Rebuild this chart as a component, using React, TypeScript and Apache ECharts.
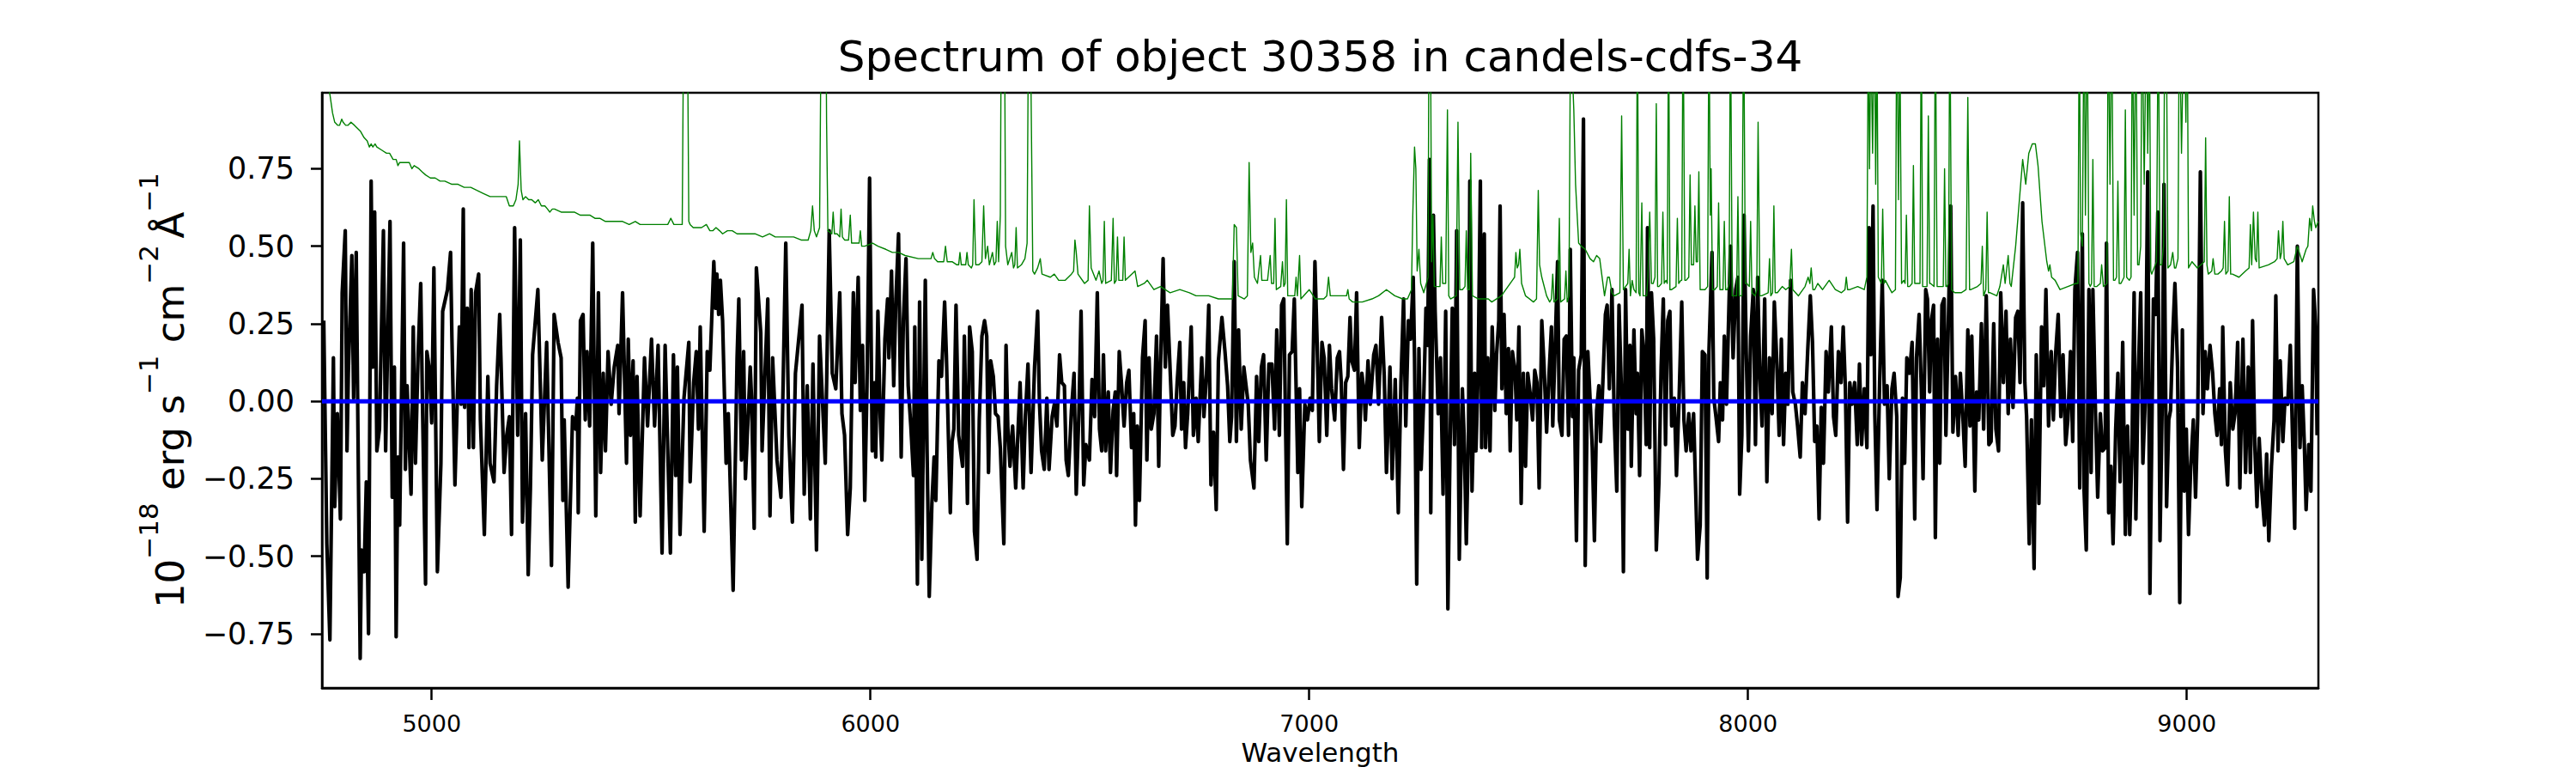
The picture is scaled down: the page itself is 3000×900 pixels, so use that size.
import React, { useEffect, useRef } from "react";
import * as echarts from "echarts";

const FONT = "DejaVu Sans";

const xTicks = [5000, 6000, 7000, 8000, 9000];
const yTicks = [-0.75, -0.5, -0.25, 0, 0.25, 0.5, 0.75];

// Observed flux (black), [wavelength, flux]
const fluxA = [[4754,.26],[4761,-.46],[4768,-.77],[4776,.14],[4779,-.34],[4785,-.04],[4792,-.38],[4796,.35],[4803,.55],[4807,-.16],[4810,.09],[4818,.47],[4822,.01],[4828,.48],[4837,-.83],[4840,-.48],[4846,-.55],[4851,-.26],[4856,-.75],[4862,.71],[4866,.11],[4870,.61],[4875,-.16],[4881,-.09],[4890,.55],[4895,-.16],[4905,.58],[4910,-.31],[4915,.11],[4919,-.76],[4923,-.18],[4927,-.40],[4936,.51],[4940,-.22],[4944,.05],[4953,-.30],[4958,.24],[4963,-.20],[4969,.15],[4975,.38],[4979,-.01],[4986,-.59],[4989,.16],[4995,.10],[5000,-.07],[5005,.43],[5013,-.55],[5021,-.20],[5025,.29],[5036,.36],[5043,.48],[5046,.21],[5053,-.27],[5063,.24],[5067,-.01],[5072,.62],[5075,-.02],[5081,.30],[5085,-.15],[5090,.36],[5095,-.15],[5100,.35],[5107,.41],[5111,-.06],[5120,-.43],[5128,.08],[5133,-.20],[5142,-.26],[5148,.05],[5155,.28],[5165,-.23],[5171,-.11],[5177,-.05],[5182,-.43],[5189,.56],[5196,-.11],[5202,.52],[5207,-.39],[5214,-.04],[5220,-.56],[5225,-.28],[5230,.15],[5242,.36],[5252,-.19],[5262,.19],[5273,-.53],[5279,.28],[5288,.19],[5295,.14],[5299,-.32],[5302,-.06],[5311,-.60],[5321,-.05],[5328,-.09],[5332,.01],[5334,-.36],[5339,.26],[5345,.28],[5350,-.06],[5354,.16],[5360,-.08],[5367,.51],[5374,-.37],[5380,.35],[5385,-.23],[5391,.09],[5396,-.16],[5402,.16],[5409,-.01],[5416,.11],[5424,.18],[5427,-.04],[5435,.35],[5444,-.20],[5448,.20],[5453,-.11],[5459,.13],[5464,-.39],[5468,.08],[5475,-.37],[5485,.14],[5492,-.08],[5501,.20],[5508,-.08],[5516,.18],[5525,-.49],[5532,.18],[5544,-.49],[5551,.15],[5556,-.24],[5560,.11],[5566,-.43],[5575,.01],[5586,.19],[5589,-.26],[5597,.06],[5603,.16],[5608,-.09],[5612,.24],[5621,-.42],[5628,.16],[5634,.10],[5643,.45],[5647,.30],[5650,.41],[5654,.28],[5658,.39],[5663,.26],[5671,-.20],[5676,-.04],[5687,-.61],[5696,.14],[5700,.33],[5706,-.19],[5711,.16],[5715,-.25],[5726,.11],[5729,.01],[5735,-.41],[5740,.43],[5750,.22],[5753,-.16],[5766,.33],[5771,-.37],[5777,.14],[5787,-.19],[5796,-.31],[5807,.51],[5814,-.11],[5822,-.39],[5829,.09],[5844,.31],[5849,-.30],[5856,.05],[5863,-.38],[5869,.12],[5877,-.48],[5884,.21],[5897,-.20]];

const fluxB = [[5906,.55],[5913,.09],[5921,.04],[5930,.35],[5935,-.04],[5941,-.11],[5948,-.43],[5954,-.28],[5961,.35],[5965,.06],[5972,.40],[5977,-.03],[5982,.18],[5987,-.32],[5992,.04],[5998,.72],[6004,-.16],[6009,.06],[6012,-.18],[6017,.29],[6022,-.04],[6026,-.19],[6033,.20],[6039,.33],[6042,.14],[6048,.42],[6053,.05],[6058,.33],[6064,.54],[6070,-.18],[6075,.26],[6081,.46],[6086,.05],[6092,-.08],[6098,-.24],[6101,.24],[6107,-.59],[6112,.32],[6117,-.51],[6125,.39],[6129,-.16],[6134,-.63],[6140,-.33],[6145,-.18],[6149,-.32],[6156,.13],[6162,.08],[6169,.32],[6173,.15],[6182,-.36],[6186,-.13],[6190,-.09],[6195,.31],[6201,-.11],[6210,-.21],[6214,.21],[6221,-.33],[6226,.24],[6232,.16],[6237,-.42],[6243,-.51],[6248,-.06],[6254,.21],[6260,.26],[6265,.21],[6269,-.23],[6274,.13],[6280,.08],[6285,-.04],[6291,-.05],[6296,-.15],[6304,-.46],[6309,.18],[6313,-.08],[6318,-.21],[6324,-.08],[6331,-.28],[6335,-.14],[6341,.06],[6348,-.28],[6353,-.05],[6359,.12],[6366,-.23],[6374,.11],[6381,.29],[6385,.00],[6390,-.16],[6396,-.22],[6402,.01],[6407,-.22],[6414,-.05],[6419,-.01],[6425,-.08],[6431,.15],[6436,.06],[6442,.05],[6446,-.19],[6451,-.24],[6458,-.03],[6464,.09],[6469,-.30],[6475,-.04],[6480,.29],[6486,-.27],[6491,-.14],[6499,-.19],[6505,.07],[6511,-.05],[6517,.35],[6522,-.09],[6527,-.16],[6531,.15],[6536,-.16],[6542,.03],[6547,-.23],[6553,-.03],[6558,.03],[6561,-.24],[6567,.16],[6572,.06],[6578,-.08],[6584,.06],[6589,.10],[6595,-.15],[6600,-.04],[6604,-.40],[6608,-.08],[6613,-.32],[6620,.14],[6626,.26],[6630,-.19],[6635,.14],[6640,-.09],[6646,-.04],[6652,.21],[6657,-.21],[6661,.11],[6667,.46],[6672,.11],[6677,.31],[6683,.10],[6689,-.11],[6694,-.08],[6699,.06],[6705,.19],[6709,-.09],[6714,.06],[6718,-.15],[6723,-.04],[6731,.24],[6736,-.11],[6742,.01],[6747,-.13],[6755,.14],[6760,-.05],[6766,.09],[6771,.31],[6776,-.27],[6782,-.10],[6788,-.35],[6793,.13],[6801,.27],[6808,.16],[6814,.05],[6819,-.13],[6823,-.05],[6829,.45],[6834,-.13],[6839,.23],[6845,-.09],[6851,.11],[6856,.05],[6861,-.01],[6866,-.19],[6874,-.28],[6880,.08],[6885,-.13],[6891,.11],[6896,.15],[6902,-.19],[6908,.12],[6915,.12],[6921,-.09],[6926,.23],[6932,-.11],[6937,.31],[6942,.33],[6950,-.46],[6955,.15],[6961,.16],[6966,.33],[6974,-.23],[6978,.04],[6983,-.34],[6990,-.01],[6996,-.06],[7002,.01],[7007,-.03],[7013,.45],[7018,.19],[7023,-.13],[7029,.19],[7034,.14],[7040,-.11]];

const fluxC = [[7046,.18],[7051,.04],[7058,-.06],[7064,.14],[7069,.16],[7073,.06],[7078,-.22],[7083,.06],[7088,.08],[7093,.27],[7097,.13],[7103,.10],[7108,.35],[7114,-.15],[7120,.09],[7125,.03],[7128,-.06],[7134,.13],[7139,-.01],[7147,.15],[7152,.18],[7158,-.01],[7165,.27],[7171,.08],[7176,-.23],[7184,.11],[7189,-.25],[7196,.07],[7203,-.36],[7209,.06],[7215,.33],[7220,-.08],[7226,.26],[7231,.20],[7237,.40],[7240,.14],[7245,-.59],[7250,.17],[7255,-.22],[7261,.01],[7266,.30],[7270,.18],[7274,.78],[7277,-.36],[7283,.60],[7287,.29],[7294,-.04],[7299,.14],[7305,-.30],[7311,.29],[7316,-.67],[7321,-.14],[7326,.30],[7331,-.14],[7336,.55],[7342,-.51],[7349,.04],[7353,-.11],[7358,-.46],[7363,-.11],[7366,.71],[7371,-.29],[7377,.09],[7380,-.16],[7385,.10],[7390,.71],[7393,-.15],[7399,.54],[7402,-.15],[7407,.14],[7412,-.16],[7417,.24],[7423,-.03],[7427,.15],[7432,.26],[7435,.63],[7439,.04],[7444,.28],[7449,-.04],[7454,.17],[7458,-.16],[7463,.16],[7469,.10],[7473,-.06],[7478,.24],[7483,-.33],[7488,.09],[7493,-.21],[7498,.09],[7504,.02],[7509,-.06],[7514,.10],[7519,.06],[7524,-.28],[7530,.26],[7535,.12],[7541,-.10],[7547,.10],[7552,.24],[7555,-.08],[7561,.20],[7566,.45],[7570,-.06],[7576,-.11],[7581,.20],[7586,.21],[7591,-.11],[7595,.49],[7600,-.05],[7603,.14],[7609,-.45],[7614,.10],[7620,.15],[7625,.91],[7629,-.53],[7635,.16],[7640,.01],[7645,-.15],[7650,-.45],[7655,-.03],[7660,.05],[7664,-.13],[7670,.09],[7675,.28],[7679,.31],[7684,.04],[7690,.36],[7695,-.05],[7701,-.29],[7706,.31],[7712,.01],[7716,-.55],[7721,.36],[7726,-.09],[7731,.18],[7734,-.21],[7740,.23],[7745,-.04],[7748,.09],[7753,-.24],[7758,.23],[7763,.15],[7768,-.14],[7771,.56],[7776,-.15],[7780,.35],[7785,.20],[7791,-.48],[7797,-.26],[7802,.11],[7807,.33],[7812,-.14],[7817,.26],[7822,.29],[7826,-.08],[7832,.01],[7837,-.24],[7843,.01],[7849,.32],[7854,-.06],[7859,-.16],[7865,-.04],[7870,-.16],[7876,-.04],[7881,-.30],[7885,-.51],[7891,-.40],[7896,.16],[7902,.15],[7907,-.57],[7911,.16],[7918,.48],[7922,.01],[7927,-.05],[7933,-.13],[7937,.06],[7942,-.06],[7946,.21],[7951,-.01],[7955,.22],[7960,.50],[7966,.14],[7972,.36],[7977,.40],[7981,-.30],[7986,-.11],[7991,.60],[7996,.16],[8001,-.16],[8006,.21],[8012,.36],[8017,-.14],[8022,.40],[8027,.08],[8032,-.08],[8038,.33],[8043,-.26],[8049,.14],[8055,-.04],[8060,.32],[8065,.15],[8071,-.11],[8076,.20],[8081,-.14],[8086,.09],[8091,-.01],[8097,.39],[8102,.03],[8108,-.01],[8113,-.08],[8119,-.18],[8124,.06],[8130,-.04],[8136,.16],[8142,.34],[8147,.19],[8152,-.13],[8157,-.08],[8162,-.38],[8167,-.02],[8172,-.20],[8178,.16],[8183,.03]];

const fluxD = [[8190,.24],[8195,-.05],[8200,-.11],[8206,.16],[8212,.06],[8217,.24],[8222,.04],[8227,-.39],[8232,.06],[8237,-.01],[8243,.06],[8249,-.14],[8254,.12],[8259,-.14],[8265,.04],[8271,-.15],[8276,.56],[8280,.15],[8285,.63],[8289,-.04],[8294,-.35],[8300,.06],[8306,.39],[8311,-.01],[8317,.05],[8322,-.25],[8328,.04],[8333,.09],[8339,-.05],[8342,-.63],[8347,-.57],[8352,.01],[8357,-.20],[8362,.14],[8368,.09],[8374,.19],[8380,-.38],[8384,.14],[8390,.28],[8395,.04],[8399,-.25],[8405,.36],[8409,.33],[8414,.03],[8418,.26],[8423,.31],[8427,-.44],[8432,.20],[8437,-.20],[8442,.31],[8447,.33],[8451,-.11],[8456,.21],[8462,.63],[8467,-.10],[8473,.08],[8479,-.11],[8484,.09],[8490,-.06],[8495,-.21],[8501,.23],[8506,-.08],[8510,.21],[8517,-.29],[8521,.03],[8526,-.06],[8532,.25],[8537,-.09],[8543,.34],[8549,-.14],[8554,-.13],[8560,.25],[8565,-.09],[8571,-.16],[8576,.35],[8582,.06],[8588,.29],[8593,-.04],[8598,.20],[8604,-.02],[8610,.27],[8615,.29],[8620,.06],[8626,.64],[8631,.06],[8635,-.05],[8641,-.46],[8646,-.06],[8652,-.54],[8657,.15],[8663,-.33],[8669,.24],[8674,.05],[8679,.36],[8685,-.08],[8691,.16],[8696,-.06],[8701,.15],[8707,.28],[8713,-.05],[8718,.15],[8724,-.14],[8729,-.06],[8735,.16],[8740,-.13],[8745,.36],[8751,.48],[8756,-.28],[8762,.54],[8766,-.29],[8771,-.48],[8777,.36],[8782,-.23],[8786,.36],[8792,-.04],[8797,-.31],[8803,-.04],[8808,-.16],[8814,-.15],[8817,.51],[8822,-.36],[8827,-.21],[8832,-.46],[8838,-.09],[8843,.09],[8848,-.26],[8854,.19],[8860,-.43],[8865,-.08],[8870,-.43],[8875,-.16],[8880,.35],[8884,-.38],[8889,.06],[8895,.35],[8900,-.20],[8906,.03],[8911,.74],[8916,-.62],[8920,-.15],[8924,.33],[8929,.28],[8934,.61],[8939,-.45],[8944,-.01],[8948,.70],[8954,-.34],[8959,-.06],[8963,-.03],[8968,.21],[8973,.38],[8979,.11],[8984,-.65],[8990,.23],[8994,-.29],[8999,-.09],[9004,-.43],[9009,-.21],[9015,-.06],[9020,-.31],[9025,-.05],[9031,.74],[9037,-.04],[9042,.16],[9047,.04],[9053,.18],[9059,.09],[9064,-.04],[9069,-.11],[9075,.04],[9079,-.14],[9082,.24],[9088,-.16],[9093,-.27],[9099,.06],[9105,-.09],[9110,-.04],[9116,.19],[9121,-.28],[9128,.20],[9134,-.23],[9140,.11],[9145,-.23],[9150,.26],[9155,-.14],[9160,-.34],[9165,-.12],[9171,-.29],[9177,-.40],[9182,-.17],[9187,-.45],[9193,-.21],[9199,-.06],[9203,.34],[9208,-.16],[9213,.13],[9219,-.13],[9224,.01],[9230,-.01],[9236,.18],[9241,-.11],[9246,-.41],[9252,.50],[9258,-.15],[9263,.05],[9268,-.14],[9272,-.35],[9278,-.14],[9283,-.29],[9289,.36],[9294,.24],[9297,-.11]];

// Noise / sky spectrum (green), [wavelength, value]
const noiseA = [[4750,1.15],[4760,1.04],[4768,.99],[4774,.93],[4779,.90],[4786,.89],[4790,.89],[4795,.91],[4798,.90],[4804,.89],[4809,.89],[4816,.90],[4824,.89],[4831,.88],[4838,.87],[4846,.85],[4853,.84],[4858,.82],[4862,.83],[4866,.82],[4871,.83],[4875,.82],[4886,.81],[4897,.80],[4904,.80],[4912,.78],[4919,.78],[4923,.76],[4927,.77],[4938,.77],[4949,.77],[4955,.75],[4960,.76],[4971,.75],[4978,.74],[4986,.73],[4997,.72],[5008,.72],[5019,.71],[5030,.71],[5045,.70],[5059,.70],[5074,.69],[5089,.69],[5103,.68],[5118,.67],[5133,.66],[5148,.66],[5160,.66],[5170,.66],[5177,.63],[5186,.63],[5192,.65],[5197,.70],[5200,.84],[5204,.68],[5208,.65],[5214,.66],[5221,.65],[5228,.65],[5236,.64],[5243,.65],[5250,.63],[5258,.63],[5264,.62],[5269,.61],[5275,.62],[5280,.62],[5295,.61],[5310,.61],[5325,.61],[5339,.60],[5350,.60],[5361,.60],[5372,.59],[5383,.59],[5396,.58],[5409,.58],[5422,.58],[5435,.58],[5450,.57],[5464,.58],[5475,.57],[5486,.57],[5508,.57],[5530,.57],[5538,.57],[5545,.59],[5552,.57],[5560,.57],[5571,.57],[5574,1.2],[5577,2.0],[5580,2.0],[5583,1.2],[5586,.58],[5589,.57],[5596,.56],[5604,.56],[5615,.56],[5626,.57],[5634,.55],[5641,.55],[5648,.56],[5656,.55],[5663,.54],[5674,.55],[5685,.55],[5696,.54],[5707,.54],[5722,.54],[5737,.54],[5754,.53],[5770,.54],[5783,.53],[5796,.53],[5811,.53],[5825,.53],[5842,.52],[5858,.52],[5864,.55],[5868,.63],[5872,.55],[5877,.53],[5884,.56],[5888,1.3],[5891,1.9],[5894,1.2],[5897,1.6],[5900,.9],[5903,.55]];

const noiseB = [[5912,.54],[5915,.61],[5918,.54],[5924,.54],[5930,.53],[5933,.62],[5936,.53],[5941,.52],[5950,.52],[5954,.60],[5957,.51],[5963,.51],[5974,.51],[5977,.55],[5980,.50],[5987,.50],[6005,.51],[6017,.50],[6035,.49],[6050,.48],[6064,.48],[6079,.47],[6109,.46],[6138,.46],[6142,.48],[6146,.46],[6153,.45],[6167,.45],[6171,.50],[6175,.45],[6186,.45],[6197,.44],[6201,.44],[6204,.48],[6207,.44],[6212,.44],[6217,.44],[6220,.48],[6223,.44],[6230,.43],[6233,.44],[6236,.65],[6240,.44],[6247,.44],[6254,.45],[6258,.63],[6262,.46],[6267,.50],[6271,.44],[6278,.48],[6282,.44],[6286,.45],[6289,.58],[6292,.45],[6296,.6],[6300,1.8],[6304,1.7],[6308,.5],[6313,.44],[6322,.48],[6326,.43],[6329,.44],[6332,.56],[6335,.43],[6344,.44],[6352,.46],[6357,.51],[6360,1.2],[6363,1.8],[6366,1.0],[6370,.42],[6374,.41],[6381,.43],[6387,.46],[6391,.41],[6410,.40],[6419,.41],[6429,.39],[6444,.39],[6458,.41],[6463,.42],[6466,.52],[6469,.48],[6473,.41],[6488,.38],[6496,.39],[6499,.63],[6503,.43],[6514,.39],[6521,.42],[6527,.38],[6530,.39],[6533,.58],[6536,.38],[6549,.39],[6553,.59],[6556,.38],[6560,.39],[6563,.53],[6566,.39],[6575,.39],[6578,.53],[6581,.39],[6603,.42],[6609,.37],[6624,.38],[6631,.39],[6646,.36],[6661,.37],[6683,.35],[6705,.36],[6727,.35],[6742,.34],[6771,.34],[6793,.33],[6825,.33],[6829,.57],[6834,.56],[6838,.34],[6852,.33],[6859,.34],[6863,.77],[6867,.48],[6871,.51],[6875,.40],[6882,.38],[6889,.47],[6892,.39],[6905,.39],[6911,.47],[6914,.38],[6919,.38],[6922,.59],[6925,.36],[6935,.37],[6939,.45],[6942,.37],[6945,.38],[6948,.65],[6951,.34],[6967,.34],[6970,.40],[6973,.34],[6978,.47],[6981,.33],[7000,.36],[7014,.33],[7033,.33],[7040,.34],[7044,.40],[7048,.34]];

const noiseC = [[7055,.34],[7069,.34],[7085,.34],[7088,.36],[7091,.33],[7099,.32],[7121,.32],[7143,.33],[7158,.34],[7176,.36],[7195,.34],[7213,.33],[7224,.33],[7233,.36],[7236,.60],[7240,.82],[7243,.75],[7246,.42],[7250,.49],[7254,.38],[7261,.35],[7267,.38],[7271,.40],[7273,1.4],[7276,1.3],[7279,.45],[7282,.60],[7285,.37],[7289,.37],[7298,.37],[7301,.53],[7304,.38],[7311,.38],[7315,.94],[7318,.34],[7322,.33],[7335,.34],[7339,.90],[7343,.36],[7349,.36],[7355,.37],[7358,.55],[7361,.36],[7365,.36],[7368,.80],[7372,.34],[7386,.33],[7408,.33],[7416,.32],[7438,.34],[7463,.39],[7468,.40],[7471,.48],[7474,.43],[7477,.44],[7480,.49],[7484,.38],[7493,.34],[7511,.32],[7518,.33],[7522,.68],[7525,.44],[7530,.40],[7541,.34],[7548,.32],[7552,.33],[7555,.41],[7558,.32],[7566,.33],[7570,.59],[7573,.32],[7582,.33],[7585,.42],[7588,.32],[7592,.34],[7595,1.1],[7600,1.05],[7603,.94],[7607,.70],[7614,.51],[7620,.50],[7629,.49],[7640,.46],[7648,.45],[7655,.47],[7662,.46],[7673,.34],[7680,.40],[7684,.40],[7690,.35],[7695,.34],[7708,.35],[7712,.92],[7716,.36],[7721,.37],[7726,.38],[7729,.49],[7732,.34],[7736,.39],[7740,.36],[7745,.35],[7748,1.3],[7751,.35],[7754,.34],[7758,.64],[7761,.34],[7769,.34],[7772,.40],[7776,.61],[7780,.38],[7784,.38],[7788,.40],[7791,.96],[7794,.37],[7797,.37],[7803,.38],[7806,.61],[7809,.38],[7813,.39],[7816,.38],[7819,1.3],[7822,.36],[7826,.36],[7836,.37],[7839,.59],[7842,.38],[7847,.39],[7849,.39],[7852,1.3],[7856,.39],[7859,.39],[7865,.40],[7868,.73],[7871,.44],[7876,.44],[7879,.63],[7882,.45],[7885,.45],[7888,.74],[7891,.36],[7902,.36],[7908,.37],[7911,1.3],[7914,.60],[7916,.75],[7919,.36],[7924,.36],[7930,.37],[7933,.64],[7936,.36],[7943,.36],[7946,.58],[7949,.36],[7953,.36],[7957,.38],[7960,1.3],[7964,.34],[7968,.34],[7974,.34],[7977,.66],[7980,.34],[7986,.34],[7990,1.3],[7994,.38],[7997,.38],[8003,.37],[8006,.58],[8009,.35],[8016,.34],[8020,.36],[8023,.90],[8027,.34],[8031,.34],[8046,.35],[8049,.46],[8052,.34],[8056,.35],[8059,.63],[8062,.35],[8067,.35],[8078,.37],[8086,.36],[8095,.37],[8099,.49],[8102,.36],[8115,.34],[8130,.37],[8137,.40],[8141,.38],[8144,.43],[8148,.36],[8152,.36],[8159,.38],[8170,.36],[8185,.39]];

const noiseD = [[8199,.36],[8213,.35],[8221,.36],[8224,.40],[8227,.36],[8232,.36],[8250,.37],[8265,.36],[8271,.40],[8274,1.2],[8277,.75],[8280,1.2],[8284,.80],[8288,1.3],[8291,.70],[8294,1.2],[8297,.40],[8304,.38],[8307,.62],[8310,.38],[8313,.39],[8328,.35],[8336,.36],[8339,1.3],[8343,.65],[8346,1.2],[8350,.38],[8355,.39],[8358,.38],[8361,.60],[8364,.37],[8368,.37],[8374,.38],[8377,.76],[8380,.38],[8383,.38],[8392,.38],[8395,1.3],[8398,.37],[8401,.37],[8408,.37],[8411,.92],[8414,.38],[8416,.38],[8424,.37],[8427,1.3],[8431,.37],[8434,.37],[8445,.37],[8448,.75],[8451,.37],[8453,.37],[8457,.38],[8460,1.3],[8464,.36],[8471,.35],[8486,.35],[8497,.36],[8501,.98],[8505,.36],[8508,.36],[8523,.37],[8531,.38],[8534,.50],[8537,.34],[8542,.36],[8545,.61],[8548,.35],[8552,.35],[8567,.34],[8574,.37],[8582,.44],[8586,.38],[8593,.47],[8597,.38],[8600,.37],[8610,.50],[8618,.64],[8626,.78],[8633,.70],[8640,.80],[8648,.83],[8655,.83],[8661,.76],[8670,.58],[8681,.45],[8685,.42],[8688,.44],[8692,.40],[8700,.39],[8711,.36],[8729,.37],[8747,.38],[8752,.38],[8755,1.3],[8758,.54],[8762,.50],[8766,1.3],[8769,.60],[8773,1.3],[8777,.38],[8780,.37],[8783,.38],[8786,.78],[8789,.37],[8795,.37],[8803,.38],[8806,.44],[8810,.37],[8818,.38],[8821,1.3],[8825,.70],[8829,1.3],[8833,.39],[8836,.39],[8840,.40],[8843,.71],[8846,.38],[8850,.38],[8857,.40],[8860,.94],[8863,.40],[8869,.39],[8873,.40],[8876,1.3],[8880,.60],[8884,1.3],[8888,.44],[8891,.44],[8895,.50],[8898,1.3],[8903,.70],[8908,1.3],[8911,.80],[8915,1.2],[8918,.42],[8920,.41],[8931,.45],[8935,1.3],[8939,.44],[8943,.44],[8947,.50],[8950,1.3],[8954,1.1],[8957,.43],[8963,.44],[8968,.48],[8972,.43],[8975,.43],[8980,.46],[8983,1.3],[8988,.80],[8994,1.3],[8998,.90],[9001,1.3],[9004,.43],[9012,.45],[9024,.43],[9040,.45],[9043,.85],[9046,.44],[9049,.41],[9057,.42],[9060,.46],[9064,.41],[9071,.41],[9079,.42],[9083,.43],[9086,.58],[9089,.41],[9094,.42],[9097,.66],[9100,.41],[9104,.41],[9119,.40],[9134,.42],[9142,.43],[9145,.57],[9148,.44],[9152,.61],[9156,.46],[9159,.45],[9162,.61],[9165,.43],[9186,.44],[9200,.45],[9206,.46],[9209,.55],[9213,.46],[9216,.48],[9219,.58],[9222,.46],[9230,.44],[9244,.45],[9252,.50],[9263,.45],[9272,.49],[9276,.50],[9280,.59],[9284,.55],[9287,.63],[9291,.58],[9294,.56],[9300,.58]];

// Model (blue)
const modelWave = [4750, 9300];
const modelFlux = [0, 0];

const fmtY = (v: number) => (v < 0 ? "\u2212" + Math.abs(v).toFixed(2) : v.toFixed(2));

export default function App() {
  const ref = useRef<HTMLDivElement>(null);
  useEffect(() => {
    document.body.style.margin = "0";
    const chart = echarts.init(ref.current as HTMLDivElement, null, { renderer: "svg" });
    const flux = [...fluxA, ...fluxB, ...fluxC, ...fluxD];
    const noise = [...noiseA, ...noiseB, ...noiseC, ...noiseD];
    const model = modelWave.map((w, i) => [w, modelFlux[i]]);
    chart.setOption({
      animation: false,
      backgroundColor: "#ffffff",
      textStyle: { fontFamily: FONT },
      grid: {
        left: 375,
        right: 300,
        top: 108,
        bottom: 99,
        show: true,
        borderColor: "#000",
        borderWidth: 2.5,
        backgroundColor: "transparent",
      },
      graphic: [
        {
          type: "text",
          x: 1537.5,
          y: 66,
          style: {
            text: "Spectrum of object 30358 in candels-cdfs-34",
            fontSize: 50,
            fontFamily: FONT,
            fill: "#000",
            align: "center",
            verticalAlign: "middle",
            textAlign: "center",
            textVerticalAlign: "middle",
          },
        },
      ],
      xAxis: {
        type: "value",
        min: 4750,
        max: 9300,
        name: "Wavelength",
        nameLocation: "middle",
        nameGap: 58,
        nameTextStyle: { fontSize: 31, color: "#000", fontFamily: FONT },
        axisLine: { show: true, onZero: false, lineStyle: { color: "#000", width: 2.5 } },
        axisTick: { show: true, customValues: xTicks, length: 14, lineStyle: { color: "#000", width: 2.5 } },
        axisLabel: {
          show: true,
          customValues: xTicks,
          fontSize: 27,
          color: "#000",
          fontFamily: FONT,
          margin: 28,
          formatter: (v: number) => String(v),
        },
        splitLine: { show: false },
      },
      yAxis: {
        type: "value",
        min: -0.925,
        max: 0.995,
        name: "{b|10}{s|\u221218}{b| erg s}{s|\u22121}{b| cm}{s|\u22122}{t| }{b|\u00c5}{s|\u22121}",
        nameLocation: "middle",
        nameRotate: 90,
        nameGap: 154,
        nameTextStyle: {
          color: "#000",
          fontFamily: FONT,
          fontSize: 45,
          rich: {
            b: { fontSize: 45, fontFamily: FONT, color: "#000", lineHeight: 64, verticalAlign: "bottom" },
            s: { fontSize: 31, fontFamily: FONT, color: "#000", lineHeight: 64, verticalAlign: "top" },
            t: { fontSize: 24, fontFamily: FONT, color: "#000", lineHeight: 64, verticalAlign: "bottom" },
          },
        },
        axisLine: { show: true, onZero: false, lineStyle: { color: "#000", width: 2.5 } },
        axisTick: { show: true, customValues: yTicks, length: 13, lineStyle: { color: "#000", width: 2.5 } },
        axisLabel: {
          show: true,
          customValues: yTicks,
          fontSize: 35,
          color: "#000",
          fontFamily: FONT,
          margin: 32,
          formatter: fmtY,
        },
        splitLine: { show: false },
      },
      series: [
        {
          name: "flux",
          type: "line",
          data: flux,
          symbol: "none",
          silent: true,
          clip: true,
          z: 2,
          lineStyle: { color: "#000000", width: 4.2, join: "round" },
        },
        {
          name: "noise",
          type: "line",
          data: noise,
          symbol: "none",
          silent: true,
          clip: true,
          z: 3,
          lineStyle: { color: "#008000", width: 1.4, join: "round" },
        },
        {
          name: "model",
          type: "line",
          data: model,
          symbol: "none",
          silent: true,
          clip: true,
          z: 4,
          lineStyle: { color: "#0000ff", width: 5 },
        },
      ],
    });
    return () => chart.dispose();
  }, []);
  return <div ref={ref} style={{ width: 3000, height: 900 }} />;
}
